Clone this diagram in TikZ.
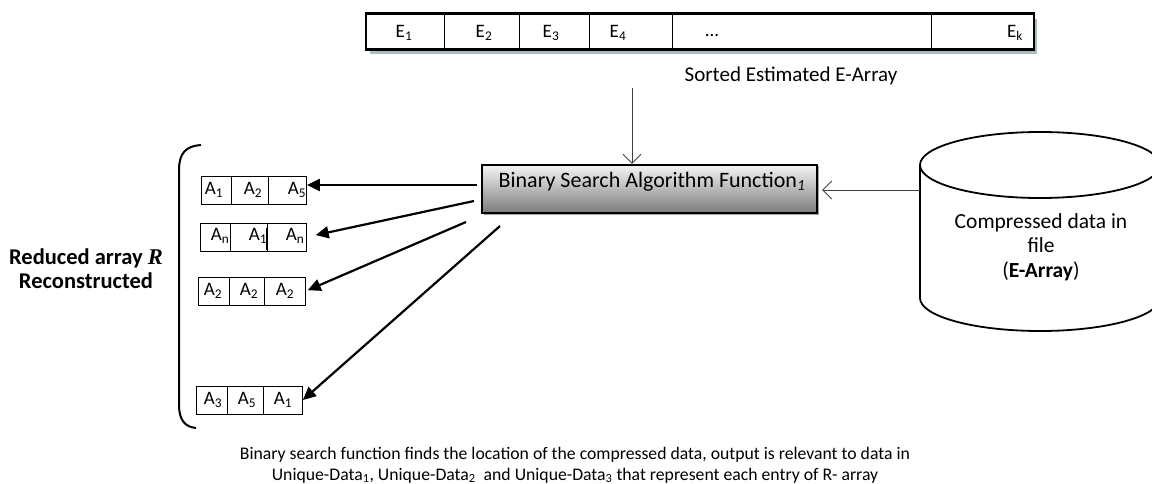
\documentclass[tikz,border=0pt]{standalone}
\usepackage{fontspec}
\setmainfont{Carlito}
\newfontfamily\serifR{Liberation Serif}
\usetikzlibrary{arrows.meta,shadows}
\definecolor{shadowblue}{HTML}{A9BCC4}
\newcommand{\fsz}[2]{\fontsize{#1}{#2}\selectfont}
\tikzset{
  txt/.style={inner sep=0pt, font=\fsz{17.7}{21}},
  ecell/.style={draw, line width=1.2pt, minimum height=35pt, inner sep=0pt, anchor=west},
  elab/.style={inner sep=0pt, font=\fsz{19}{22}},
  acell/.style={draw, line width=0.9pt, minimum height=28pt, inner sep=0pt, anchor=west},
  alab/.style={inner sep=0pt, font=\fsz{19}{22}},
  bigarrow/.style={line width=2.2pt, -{Triangle[length=13pt,width=12pt]}},
  thinarrow/.style={line width=0.9pt, draw=black!75, -{Straight Barb[length=9pt,width=18pt,line width=0.9pt]}},
}
\begin{document}
\begin{tikzpicture}[x=1pt,y=-1pt]
\useasboundingbox (0,0) rectangle (1152,484);
% ---------- E-array ----------
\fill[shadowblue] (370,19) rectangle (1037,54);
\node[ecell, fill=white, minimum width=78pt] (c1) at (366,31.5) {};
\node[ecell, fill=white, minimum width=75pt] (c2) at (444,31.5) {};
\node[ecell, fill=white, minimum width=70pt] (c3) at (519,31.5) {};
\node[ecell, fill=white, minimum width=83pt] (c4) at (589,31.5) {};
\node[ecell, fill=white, minimum width=259pt] (c5) at (672,31.5) {};
\node[ecell, fill=white, minimum width=102pt] (c6) at (931,31.5) {};
\draw[line width=2.4pt] (c1.north west) rectangle (c6.south east);
\node[elab] (e1) at (404,33) {E\textsubscript{1}};
\node[elab] (e2) at (484,33) {E\textsubscript{2}};
\node[elab] (e3) at (551,33) {E\textsubscript{3}};
\node[elab] (e4) at (618,33) {E\textsubscript{4}};
\node[elab] (e5) at (712,35) {...};
\node[elab] (ek) at (1015,33) {E\textsubscript{k}};
\node[inner sep=0pt, font=\fsz{21}{24}] (sorted) at (791,76) {Sorted Estimated E-Array};
% ---------- Binary search box ----------
\node[draw, line width=2.2pt, minimum width=335pt, minimum height=48pt, inner sep=0pt,
      top color=black!4, bottom color=black!52,
      drop shadow={shadow xshift=1.5pt, shadow yshift=-1.5pt, fill=black!60, opacity=0.6}]
      (bs) at (649.5,189) {};
\node[inner sep=0pt, font=\fsz{22}{25}] (bsl) at (652,182) {Binary Search Algorithm Function\textsubscript{\textit{1}}};
\coordinate (top) at (632,88);
\draw[thinarrow] (top) -- (bs.north -| top);
% ---------- Cylinder ----------
\draw[line width=1.8pt, fill=white] (920,165) -- (920,298)
   arc[start angle=180, end angle=360, x radius=120pt, y radius=33pt] -- (1160,165);
\draw[line width=1.8pt] (1040,165) ellipse [x radius=120pt, y radius=33pt];
\coordinate (cylW) at (920,190);
\node[align=center, inner sep=0pt, font=\fsz{21.5}{24.5}] (cyltext) at (1041,247)
  {Compressed data in\\ file\\ (\textbf{E-Array})};
\draw[thinarrow, shorten >=4pt] (cylW) -- (bs.east |- cylW);
% ---------- Left arrays ----------
% row 1
\node[acell, minimum width=30pt] (r1c1) at (201,190) {};
\node[acell, minimum width=37pt] (r1c2) at (231,190) {};
\node[acell, minimum width=38pt] (r1c3) at (268,190) {};
\node[alab] (l11) at (214,190) {A\textsubscript{1}};
\node[alab] (l12) at (253,190) {A\textsubscript{2}};
\node[alab] (l13) at (297,190) {A\textsubscript{5}};
% row 2
\node[acell, minimum width=30pt] (r2c1) at (200,237) {};
\node[acell, minimum width=37pt] (r2c2) at (230,237) {};
\node[acell, minimum width=39pt] (r2c3) at (267,237) {};
\node[alab] (l21) at (220,236) {A\textsubscript{n}};
\node[alab] (l22) at (258,236) {A\textsubscript{1}};
\node[alab] (l23) at (295,236) {A\textsubscript{n}};
\draw[line width=0.9pt] (266,228) -- (266,250);
% row 3
\node[acell, minimum width=31pt] (r3c1) at (198,291) {};
\node[acell, minimum width=35pt] (r3c2) at (229,291) {};
\node[acell, minimum width=41pt] (r3c3) at (264,291) {};
\node[alab] (l31) at (213,291) {A\textsubscript{2}};
\node[alab] (l32) at (249,291) {A\textsubscript{2}};
\node[alab] (l33) at (285,291) {A\textsubscript{2}};
% row 4
\node[acell, minimum width=31pt] (r4c1) at (196,400) {};
\node[acell, minimum width=36pt] (r4c2) at (227,400) {};
\node[acell, minimum width=39pt] (r4c3) at (263,400) {};
\node[alab] (l41) at (213,400) {A\textsubscript{3}};
\node[alab] (l42) at (247,400) {A\textsubscript{5}};
\node[alab] (l43) at (283,400) {A\textsubscript{1}};
% bracket
\draw[line width=2pt] (201,145) .. controls (186,146) and (179,153) .. (179,170)
   -- (179,405) .. controls (179,420) and (185,427) .. (196,428);
% arrows
\coordinate (s1) at (477,185);
\coordinate (s2) at (474,201);
\coordinate (s3) at (466,222);
\coordinate (s4) at (500,226);
\draw[bigarrow] (s1) -- (r1c3.east |- s1);
\draw[bigarrow, shorten >=9pt] (s2) -- (r2c3.east);
\draw[bigarrow, shorten >=2pt] (s3) -- (r3c3.east);
\draw[bigarrow] (s4) -- (r4c3.east);
% left label
\node[inner sep=0pt, font=\fsz{22.5}{24}\bfseries, align=center] (redlab) at (86,269)
  {Reduced array {\serifR\itshape R}\\ Reconstructed};
% bottom text
\node[txt, align=center] (bottom) at (575,465)
  {Binary search function finds the location of the compressed data, output is relevant to data in\\
   Unique-Data\textsubscript{1}, Unique-Data\textsubscript{2}\ \ and Unique-Data\textsubscript{3} that represent each entry of R- array};
\end{tikzpicture}
\end{document}
